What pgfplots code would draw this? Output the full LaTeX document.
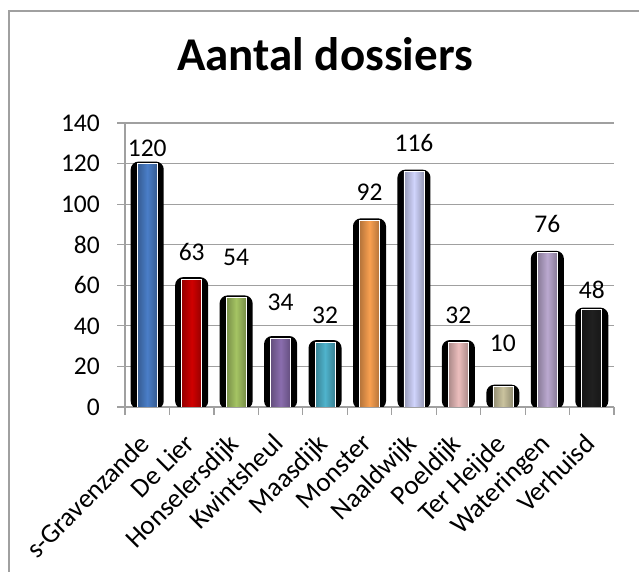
\documentclass[border=0pt]{standalone}
\usepackage{pgfplots}
\pgfplotsset{compat=1.18}
\usepackage{pgfplotstable}
\usepackage{fontspec}
\setmainfont{Carlito}
\definecolor{c1}{HTML}{4A7EC8}
\definecolor{c2}{HTML}{D00000}
\definecolor{c3}{HTML}{A5C463}
\definecolor{c4}{HTML}{8A6DAE}
\definecolor{c5}{HTML}{4FB3CC}
\definecolor{c6}{HTML}{F9A050}
\definecolor{c7}{HTML}{D0D4FC}
\definecolor{c8}{HTML}{ECBEBD}
\definecolor{c9}{HTML}{CAC39E}
\definecolor{c10}{HTML}{BBA9D0}
\definecolor{c11}{HTML}{202020}
\definecolor{gridc}{HTML}{A0A0A0}
\pgfplotstableread{
x y gap
0 120 7
1 63 19
2 54 32
3 34 28
4 32 19
5 92 20
6 116 20
7 32 19
8 10 35
9 76 20
10 48 11
}\datatable
\newcommand{\cbar}[3]{\addplot[ybar, bar width=20bp, bar shift=0pt, draw=white, line width=0.7bp,
  left color=#1!72!black, right color=#1!72!black, middle color=#1] coordinates {(#2,#3)};}
\begin{document}
\begin{tikzpicture}[x=1bp,y=1bp]
\path[use as bounding box] (0,0) rectangle (639,572);
\draw[gridc, line width=1.2bp] (9,0) -- (9,561) -- (639,561);
\begin{axis}[
  at={(125bp,165bp)}, anchor=south west,
  scale only axis, width=489bp, height=284bp,
  xmin=-0.5, xmax=10.5, ymin=0, ymax=140,
  ytick={0,20,...,140},
  ymajorgrids, grid style={draw=gridc, line width=1.2bp},
  axis x line*=bottom, axis y line*=left,
  axis line style={draw=gridc, line width=1.2bp, -},
  tick align=outside, major tick length=8bp,
  tick style={draw=gridc, line width=1.2bp},
  /pgf/number format/assume math mode=true,
  tick label style={font=\fontsize{25.5bp}{30bp}\selectfont, text=black},
  yticklabel style={inner sep=0pt, xshift=-17bp},
  xtick={-0.5,0.5,...,10.5}, xticklabels={},
  extra x ticks={0,1,...,10},
  extra x tick labels={s-Gravenzande,De Lier,Honselersdijk,Kwintsheul,Maasdijk,Monster,Naaldwijk,Poeldijk,Ter Heijde,Wateringen,Verhuisd},
  extra x tick style={major tick length=0pt, xticklabel style={font=\fontsize{27bp}{32bp}\selectfont, inner sep=0pt, xshift=-9bp, yshift=-25bp, rotate=45, anchor=north east}},
  title={\bfseries Aantal dossiers},
  title style={font=\fontsize{47bp}{56bp}\selectfont\bfseries, at={(axis description cs:0.409,1.1655)}, anchor=base},
]
\addplot[ybar, bar width=29bp, bar shift=0pt, fill=black, draw=black, line width=4bp, rounded corners=6bp,
  visualization depends on={\thisrow{gap}\as\gap},
  nodes near coords,
  every node near coord/.append style={font=\fontsize{25.5bp}{30bp}\selectfont, text=black, anchor=base, yshift=\gap bp, inner sep=0pt, line width=0.4pt}
] table[x=x, y=y] {\datatable};
\cbar{c1}{0}{120}
\cbar{c2}{1}{63}
\cbar{c3}{2}{54}
\cbar{c4}{3}{34}
\cbar{c5}{4}{32}
\cbar{c6}{5}{92}
\cbar{c7}{6}{116}
\cbar{c8}{7}{32}
\cbar{c9}{8}{10}
\cbar{c10}{9}{76}
\cbar{c11}{10}{48}
\end{axis}
\end{tikzpicture}
\end{document}
